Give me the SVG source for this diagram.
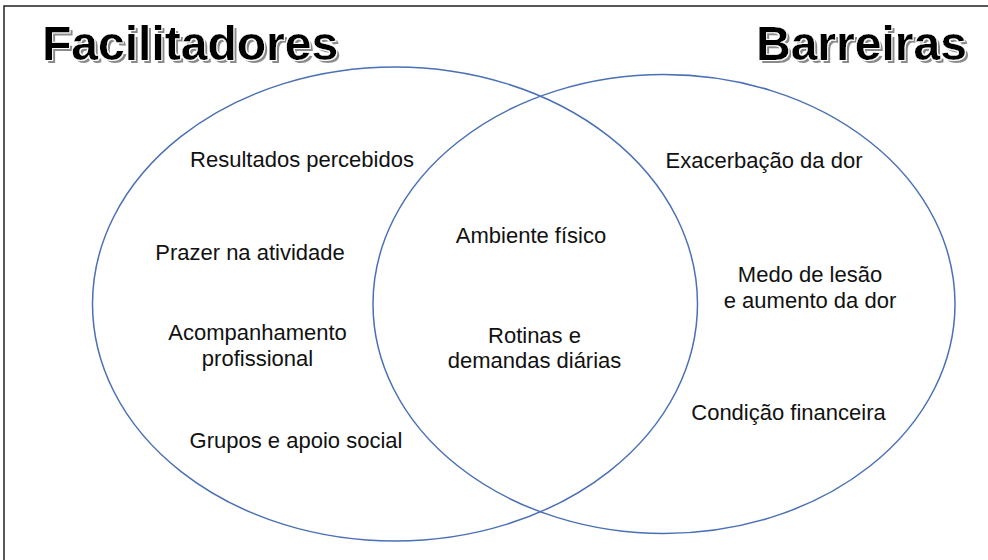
<svg xmlns="http://www.w3.org/2000/svg" width="988" height="560" viewBox="0 0 988 560">
  <defs>
    <filter id="titleShadow" x="-5%" y="-20%" width="115%" height="150%">
      <feMorphology in="SourceAlpha" operator="dilate" radius="1" result="halo"/>
      <feOffset in="SourceAlpha" dx="2.5" dy="2.5" result="off"/>
      <feGaussianBlur in="off" stdDeviation="0.7" result="blur"/>
      <feFlood flood-color="#8a8a8a" result="gray"/>
      <feComposite in="gray" in2="blur" operator="in" result="shadow"/>
      <feFlood flood-color="#ffffff" result="white"/>
      <feComposite in="white" in2="halo" operator="in" result="whiteHalo"/>
      <feMerge>
        <feMergeNode in="shadow"/>
        <feMergeNode in="whiteHalo"/>
        <feMergeNode in="SourceGraphic"/>
      </feMerge>
    </filter>
  </defs>
  <style>
    .title { font-family: "Liberation Sans", Arial, sans-serif; font-weight: bold; font-size: 48px; fill: #000; }
    .set { fill: none; stroke: #4a70b5; stroke-width: 1.5; }
    .lbl { font-family: "Liberation Sans", Arial, sans-serif; font-size: 22px; fill: #111; text-anchor: middle; }
    .frame { stroke: #222; stroke-width: 1.5; fill: none; }
  </style>
  <rect x="0" y="0" width="988" height="560" fill="#fff"/>
  <path class="frame" d="M4,560 V6 H988"/>

  <g id="title-facilitadores">
    <text class="title" x="42" y="60" filter="url(#titleShadow)">Facilitadores</text>
  </g>
  <g id="title-barreiras">
    <text class="title" x="756" y="60" filter="url(#titleShadow)">Barreiras</text>
  </g>

  <g id="set-facilitadores">
    <ellipse class="set" cx="395" cy="304" rx="302.5" ry="237"/>
  </g>
  <g id="set-barreiras">
    <ellipse class="set" cx="664" cy="304" rx="291" ry="229.5"/>
  </g>

  <g id="connectors"></g>

  <g id="resultados-percebidos"><text class="lbl" x="302" y="167">Resultados percebidos</text></g>
  <g id="prazer-na-atividade"><text class="lbl" x="250" y="260">Prazer na atividade</text></g>
  <g id="acompanhamento-profissional">
    <text class="lbl" x="257.5" y="340">Acompanhamento</text>
    <text class="lbl" x="257.5" y="366">profissional</text>
  </g>
  <g id="grupos-apoio-social"><text class="lbl" x="296" y="448">Grupos e apoio social</text></g>

  <g id="ambiente-fisico"><text class="lbl" x="531" y="243">Ambiente físico</text></g>
  <g id="rotinas-demandas">
    <text class="lbl" x="534.5" y="343">Rotinas e</text>
    <text class="lbl" x="534.5" y="368">demandas diárias</text>
  </g>

  <g id="exacerbacao-dor"><text class="lbl" x="764" y="168">Exacerbação da dor</text></g>
  <g id="medo-lesao">
    <text class="lbl" x="810" y="282">Medo de lesão</text>
    <text class="lbl" x="810" y="308">e aumento da dor</text>
  </g>
  <g id="condicao-financeira"><text class="lbl" x="788.5" y="420">Condição financeira</text></g>
</svg>
